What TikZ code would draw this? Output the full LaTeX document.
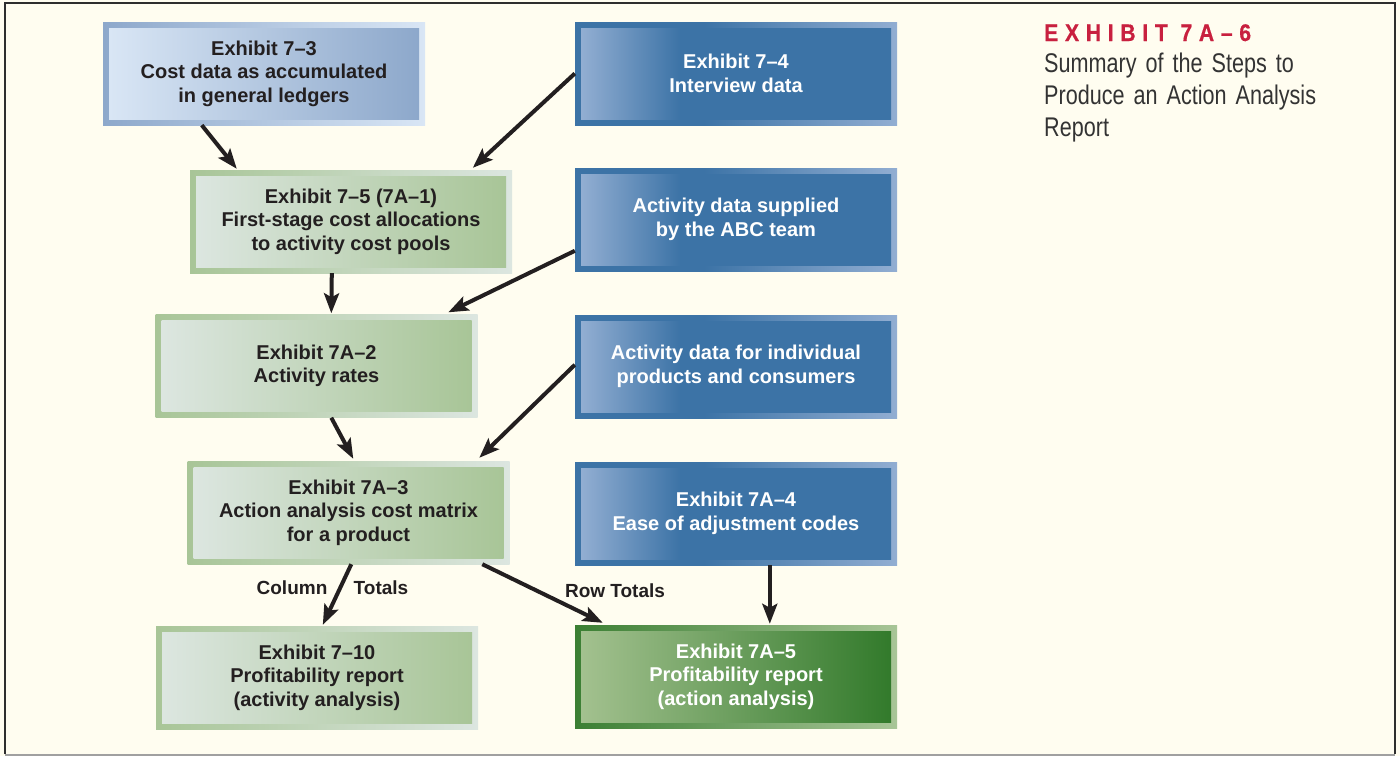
\documentclass[tikz,border=0pt]{standalone}
\usepackage{fontspec}
\setmainfont{Liberation Sans}
\newfontfamily\titlefont[LetterSpace=28,FakeStretch=0.88,FakeBold=0.6]{Liberation Sans}
\newfontfamily\subfont[FakeStretch=0.80]{Liberation Sans}
\usetikzlibrary{arrows.meta,calc}
\definecolor{bg}{HTML}{FFFDF0}
\definecolor{frame}{HTML}{2E2E2E}
\definecolor{framebot}{HTML}{A0A0A0}
\definecolor{ink}{HTML}{231F20}
\definecolor{exred}{HTML}{C8203F}
\definecolor{subgray}{HTML}{333333}
\definecolor{lbA}{HTML}{8DA8CB}
\definecolor{lbB}{HTML}{D9E6F5}
\definecolor{dbA}{HTML}{3C73A6}
\definecolor{dbB}{HTML}{92AED2}
\definecolor{grA}{HTML}{A8C597}
\definecolor{grB}{HTML}{DCE6E0}
\definecolor{dgA}{HTML}{3B7F33}
\definecolor{dgB}{HTML}{A3C18F}
\definecolor{dgC}{HTML}{327A2B}
\pgfdeclarehorizontalshading{ltblueout}{100bp}{color(0bp)=(lbA); color(25bp)=(lbA); color(75bp)=(lbB); color(100bp)=(lbB)}
\pgfdeclarehorizontalshading{ltbluein}{100bp}{color(0bp)=(lbB); color(25bp)=(lbB); color(75bp)=(lbA); color(100bp)=(lbA)}
\pgfdeclarehorizontalshading{blueout}{100bp}{color(0bp)=(dbA); color(25bp)=(dbA); color(45bp)=(dbA); color(75bp)=(dbB); color(100bp)=(dbB)}
\pgfdeclarehorizontalshading{bluein}{100bp}{color(0bp)=(dbB); color(25bp)=(dbB); color(41bp)=(dbA); color(75bp)=(dbA); color(100bp)=(dbA)}
\pgfdeclarehorizontalshading{greenout}{100bp}{color(0bp)=(grA); color(25bp)=(grA); color(75bp)=(grB); color(100bp)=(grB)}
\pgfdeclarehorizontalshading{greenin}{100bp}{color(0bp)=(grB); color(25bp)=(grB); color(75bp)=(grA); color(100bp)=(grA)}
\pgfdeclarehorizontalshading{dgreenout}{100bp}{color(0bp)=(dgA); color(25bp)=(dgA); color(75bp)=(grA); color(100bp)=(grA)}
\pgfdeclarehorizontalshading{dgreenin}{100bp}{color(0bp)=(dgB); color(25bp)=(dgB); color(75bp)=(dgC); color(100bp)=(dgC)}
\tikzset{
  outbox/.style={minimum width=322pt, minimum height=103pt, inner sep=0pt, shade, shading=#1},
  inbox/.style={minimum width=310pt, minimum height=91pt, inner sep=0pt, shade, shading=#1,
     align=center, font=\bfseries\fontsize{20}{23.5}\selectfont},
  darktxt/.style={text=ink},
  lighttxt/.style={text=white},
  arr/.style={line width=4pt, draw=ink, -{Stealth[length=20pt,width=15pt,inset=4pt]}},
  lbl/.style={text=ink, inner sep=0pt, font=\bfseries\fontsize{19}{22}\selectfont}
}
\begin{document}
\begin{tikzpicture}[x=1pt,y=-1pt]
\useasboundingbox (0,0) rectangle (1400,756);
\fill[bg] (0,0) rectangle (1400,756);
\draw[line width=2.5pt, frame] (5,754) -- (5,3) -- (1395,3) -- (1395,754);
\draw[line width=2pt, framebot] (5,754.5) -- (1395,754.5);

% left column
\node[outbox=ltblueout] (a) at (264,73.5) {};
\node[inbox=ltbluein, darktxt] (at) at (a.center) {Exhibit 7–3\\Cost data as accumulated\\in general ledgers};
\node[outbox=greenout] (b) at (351,221.5) {};
\node[inbox=greenin, darktxt] (bt) at (b.center) {Exhibit 7–5 (7A–1)\\First-stage cost allocations\\to activity cost pools};
\node[outbox=greenout] (e) at (316.5,366) {};
\node[inbox=greenin, darktxt] (et) at (e.center) {Exhibit 7A–2\\Activity rates};
\node[outbox=greenout] (g) at (348.5,512.5) {};
\node[inbox=greenin, darktxt] (gt) at (g.center) {Exhibit 7A–3\\Action analysis cost matrix\\for a product};
\node[outbox=greenout] (i) at (317,677.5) {};
\node[inbox=greenin, darktxt] (it) at (i.center) {Exhibit 7–10\\Profitability report\\(activity analysis)};

% right column
\node[outbox=blueout] (c) at (736,73.5) {};
\node[inbox=bluein, lighttxt] (ct) at (c.center) {Exhibit 7–4\\Interview data};
\node[outbox=blueout] (d) at (736,219.5) {};
\node[inbox=bluein, lighttxt] (dt) at (d.center) {Activity data supplied\\by the ABC team};
\node[outbox=blueout] (f) at (736,366.5) {};
\node[inbox=bluein, lighttxt] (ft) at (f.center) {Activity data for individual\\products and consumers};
\node[outbox=blueout] (h) at (736,513.5) {};
\node[inbox=bluein, lighttxt] (ht) at (h.center) {Exhibit 7A–4\\Ease of adjustment codes};
\node[outbox=dgreenout] (j) at (736,676.5) {};
\node[inbox=dgreenin, lighttxt] (jt) at (j.center) {Exhibit 7A–5\\Profitability report\\(action analysis)};

% title
\node[anchor=base west, inner sep=0pt, text=exred, font=\titlefont\bfseries\fontsize{24}{24}\selectfont] (title) at (1044,41) {EXHIBIT 7A–6};
\node[anchor=base west, inner sep=0pt, text width=340pt, align=left, text=subgray, font=\subfont\fontsize{27}{32}\selectfont] (sub) at (1044,72) {Summary of the Steps to\\Produce an Action Analysis\\Report};

% arrows
\draw[arr] ($(a.south west)+(99,0)$) -- ($(b.north west)+(47,-1)$);
\draw[arr] (c.west) -- ($(b.north west)+(283,-2)$);
\draw[arr] ($(b.south west)+(142,0)$) -- ($(e.north west)+(176,-1)$);
\draw[arr] ($(d.north west)+(0,83)$) -- ($(e.north west)+(293,-2)$);
\draw[arr] ($(e.south west)+(176,0)$) -- ($(g.north west)+(166,-2)$);
\draw[arr] ($(f.north west)+(0,50)$) -- ($(g.north west)+(292,-3)$);
\draw[arr] ($(g.south west)+(164,0)$) -- ($(i.north west)+(167,-1)$);
\draw[arr] ($(g.south west)+(295,0)$) -- ($(j.north west)+(28,-2)$);
\draw[arr] ($(h.south west)+(195,0)$) -- ($(j.north west)+(195,-1)$);

% labels
\node[lbl] (col) at (292,588) {Column};
\node[lbl] (tot) at (381,588) {Totals};
\node[lbl] (row) at (615,591) {Row Totals};
\end{tikzpicture}
\end{document}
